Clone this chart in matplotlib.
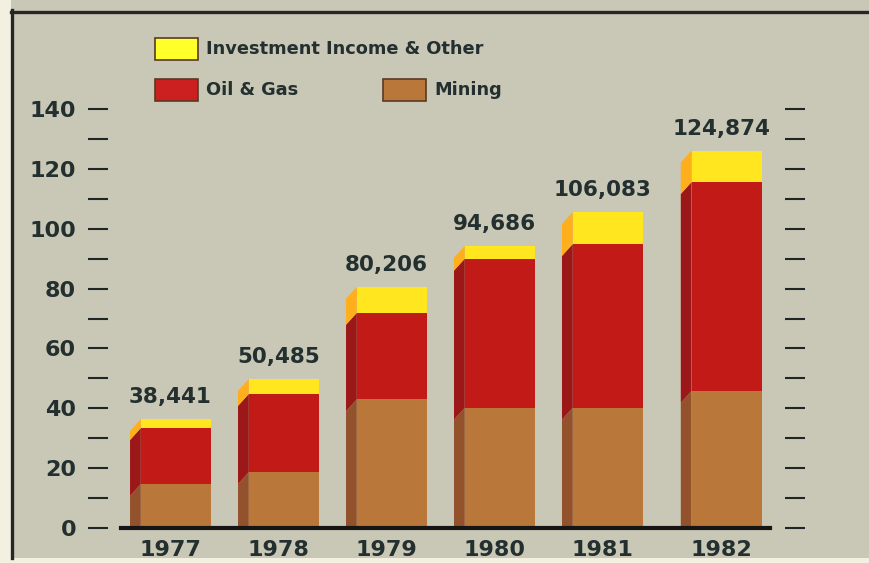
"""Ingresos por segmento 1977-1982 (barras apiladas con efecto 3D)."""
import matplotlib.pyplot as plt
from matplotlib.patches import Polygon, Rectangle

years = ["1977", "1978", "1979", "1980", "1981", "1982"]
totals = ["38,441", "50,485", "80,206", "94,686", "106,083", "124,874"]
mining = [14.7, 18.7, 43.0, 40.2, 40.2, 45.8]
oil_gas = [18.7, 26.1, 28.9, 49.8, 54.7, 69.8]
investment = [3.0, 5.0, 8.7, 4.3, 10.7, 10.5]

BG = "#c9c8b6"
INK = "#243030"
# (frente, lateral)
COLORS = {
    "mining": ("#b9783a", "#94522c"),
    "oil": ("#c21a16", "#9c1818"),
    "inv": ("#ffe61e", "#ffae1c"),
}
FONT = "DejaVu Sans"

fig = plt.figure(figsize=(8.69, 5.63), dpi=100)
fig.patch.set_facecolor("#f3f0e2")

# fondo gris con marco negro arriba e izquierda
bg = Rectangle((11 / 869, 5 / 563), 1, 1, transform=fig.transFigure,
               facecolor=BG, edgecolor="none", zorder=-5)
fig.add_artist(bg)
fig.add_artist(plt.Line2D([11 / 869, 1], [1 - 11.5 / 563] * 2, transform=fig.transFigure,
                          color="#262626", lw=2.4, zorder=-4))
fig.add_artist(plt.Line2D([11.5 / 869] * 2, [5 / 563, 1 - 10 / 563], transform=fig.transFigure,
                          color="#262626", lw=2.4, zorder=-4))

ax = fig.add_axes([108 / 869, 35 / 563, 677 / 869, 419 / 563])
ax.set_facecolor("none")
ax.set_zorder(1)
for s in ax.spines.values():
    s.set_visible(False)

xpos = [0, 1, 2, 3, 4, 5.1]
ax.set_xlim(-0.579, 5.69)
ax.set_ylim(0, 140)

w_all, w_side, drop = 0.75, 0.10, 4.0
for i, x in enumerate(xpos):
    xb = x - w_all / 2
    xf = xb + w_side
    xr = x + w_all / 2
    base = 0.0
    for key, val in (("mining", mining[i]), ("oil", oil_gas[i]), ("inv", investment[i])):
        front, side = COLORS[key]
        top = base + val
        ax.add_patch(Rectangle((xf, base), xr - xf, val, facecolor=front,
                               edgecolor="none", zorder=2))
        ax.add_patch(Polygon([(xb, max(base - drop, 0)), (xf, base), (xf, top),
                              (xb, top - drop)], closed=True, facecolor=side,
                             edgecolor="none", zorder=2))
        base = top
    ax.annotate(totals[i], (x, base), xytext=(0, 8.5), textcoords="offset points",
                ha="center", va="bottom", fontsize=15.5, fontweight="bold",
                color=INK, family=FONT, annotation_clip=False)

ax.axhline(0, xmin=0.019, xmax=0.978, color="#151515", lw=3, zorder=3, clip_on=False)

ax.set_xticks(xpos)
ax.set_xticklabels(years)
ax.tick_params(axis="x", length=0, pad=9, labelsize=16, labelcolor=INK)
for t in ax.get_xticklabels():
    t.set_fontweight("bold")
    t.set_family(FONT)

ax.set_yticks(range(0, 141, 20))
ax.set_yticks(range(10, 140, 20), minor=True)
ax.tick_params(axis="y", which="both", direction="out", length=14.5, width=1.5,
               color="#1e2626", left=True, right=True, pad=8.5,
               labelsize=16, labelcolor=INK)
for t in ax.get_yticklabels():
    t.set_fontweight("bold")
    t.set_family(FONT)

# leyenda manual
legend_items = [
    ("Investment Income & Other", "#ffff2a", 155, 38),
    ("Oil & Gas", "#cc2020", 155, 79),
    ("Mining", COLORS["mining"][0], 383, 79),
]
for label, color, px, py in legend_items:
    fig.add_artist(Rectangle((px / 869, 1 - (py + 22) / 563), 43 / 869, 22 / 563,
                             transform=fig.transFigure, facecolor=color,
                             edgecolor="#5a3a22", lw=1.2, zorder=3))
    fig.text((px + 51) / 869, 1 - (py + 11) / 563, label, ha="left", va="center",
             fontsize=12.8, fontweight="bold", color=INK, family=FONT)

fig.savefig("out.png", dpi=100, facecolor=fig.get_facecolor())
